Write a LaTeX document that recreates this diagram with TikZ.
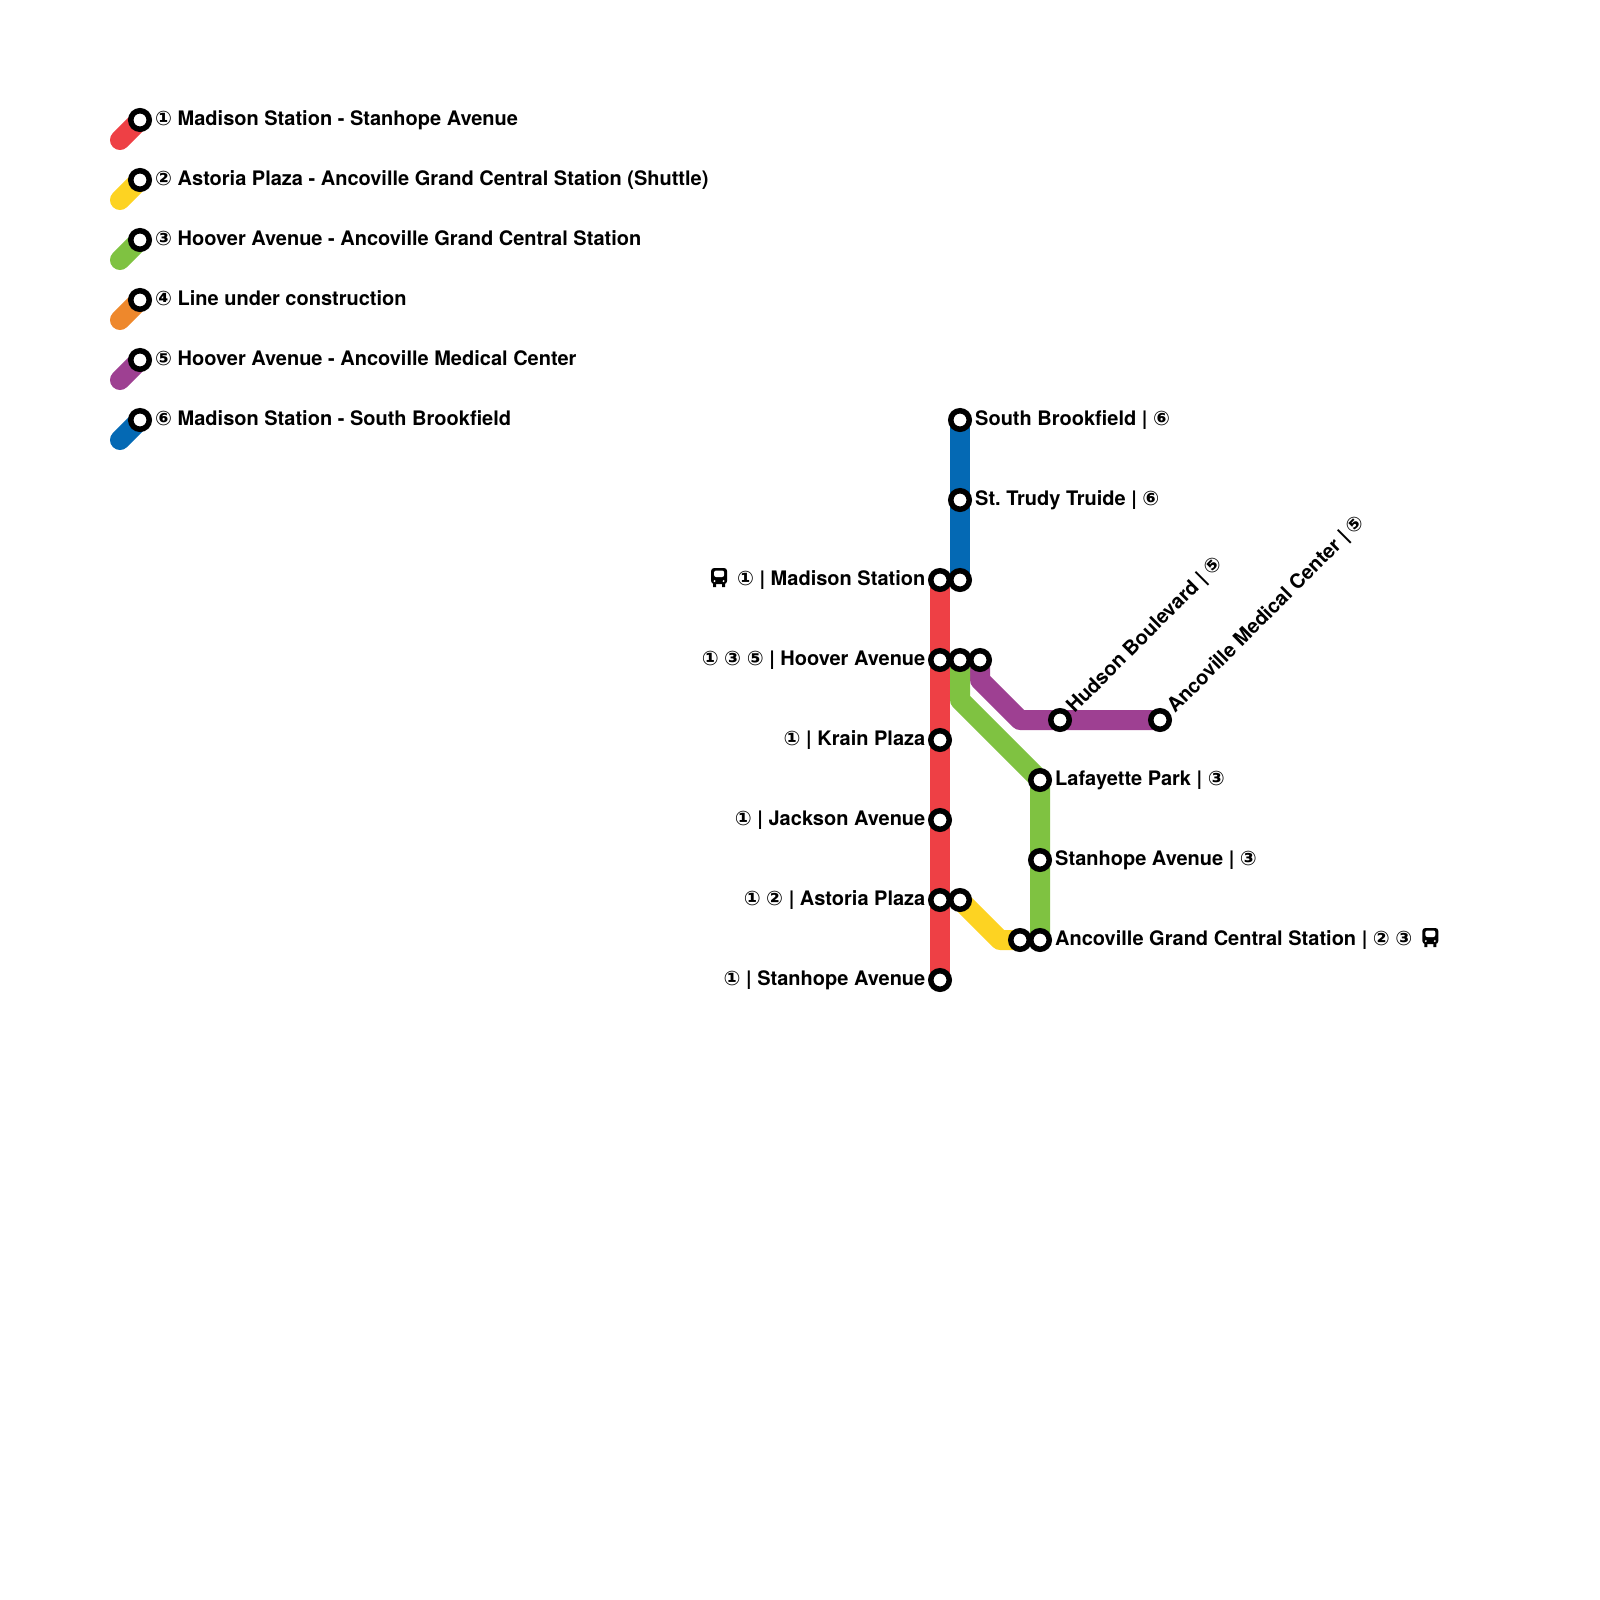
\documentclass[tikz,border=0pt]{standalone}
\usepackage{fontspec}
\setmainfont{TeX Gyre Heros}
\newfontfamily\symfont{DejaVu Sans}
\newcommand{\cn}[1]{{\symfont\bfseries #1}}
\newcommand{\bus}{\tikz[baseline=2pt,x=1pt,y=1pt]{
  \fill[black,rounded corners=3pt] (0,3) rectangle (16,19);
  \fill[black] (2,0) rectangle (5,4) (11,0) rectangle (14,4);
  \fill[white,rounded corners=2pt] (3,10) rectangle (13,16.5);
  \fill[white] (3.5,6) circle (1.1) (12.5,6) circle (1.1);}}
\definecolor{linered}{HTML}{EE4045}
\definecolor{lineyellow}{HTML}{FDD322}
\definecolor{linegreen}{HTML}{7FC241}
\definecolor{lineorange}{HTML}{EE882C}
\definecolor{linepurple}{HTML}{9E4092}
\definecolor{lineblue}{HTML}{0469B4}
\tikzset{
  metro/.style={line width=20pt,line cap=round,line join=round},
  stn/.style={circle,draw=black,fill=white,line width=5.5pt,minimum size=18.5pt,inner sep=0pt,outer sep=0pt},
  txt/.style={font=\fontsize{20pt}{24pt}\bfseries\frenchspacing,inner sep=0pt,text=black},
  lbl/.style={txt,anchor=base west},
  lblr/.style={txt,anchor=base east},
}
\begin{document}
\begin{tikzpicture}[x=1pt,y=-1pt]
  \useasboundingbox (0,0) rectangle (1600,1600);
  % legend line ends
  \coordinate (endA) at (120,140);
  \coordinate (endB) at (120,200);
  \coordinate (endC) at (120,260);
  \coordinate (endD) at (120,320);
  \coordinate (endE) at (120,380);
  \coordinate (endF) at (120,440);
  \coordinate (keyA) at (140,120);
  \coordinate (keyB) at (140,180);
  \coordinate (keyC) at (140,240);
  \coordinate (keyD) at (140,300);
  \coordinate (keyE) at (140,360);
  \coordinate (keyF) at (140,420);
  % stations
  \coordinate (madison) at (940,580);
  \coordinate (hoover) at (940,660);
  \coordinate (krain) at (940,740);
  \coordinate (jackson) at (940,820);
  \coordinate (astoria) at (940,900);
  \coordinate (stanhope) at (940,980);
  \coordinate (brookfield) at (960,420);
  \coordinate (trudy) at (960,500);
  \coordinate (madisonB) at (960,580);
  \coordinate (hooverC) at (960,660);
  \coordinate (hooverE) at (980,660);
  \coordinate (hudson) at (1060,720);
  \coordinate (medical) at (1160,720);
  \coordinate (lafayette) at (1040,780);
  \coordinate (stanhopeC) at (1040,860);
  \coordinate (grandC) at (1040,940);
  \coordinate (grandB) at (1020,940);
  \coordinate (astoriaB) at (960,900);
  % bends
  \coordinate (bendC) at (960,700);
  \coordinate (bendE) at (980,680);
  \coordinate (bendF) at (1020,720);
  \coordinate (bendB) at (1000,940);
  % legend lines
  \draw[metro,linered] (endA) -- (keyA);
  \draw[metro,lineyellow] (endB) -- (keyB);
  \draw[metro,linegreen] (endC) -- (keyC);
  \draw[metro,lineorange] (endD) -- (keyD);
  \draw[metro,linepurple] (endE) -- (keyE);
  \draw[metro,lineblue] (endF) -- (keyF);
  % lines
  \draw[metro,lineblue] (brookfield) -- (trudy) -- (madisonB);
  \draw[metro,linepurple] (hooverE) -- (bendE) -- (bendF) -- (hudson) -- (medical);
  \draw[metro,linegreen] (hooverC) -- (bendC) -- (lafayette) -- (stanhopeC) -- (grandC);
  \draw[metro,lineyellow] (astoriaB) -- (bendB) -- (grandB);
  \draw[metro,linered] (madison) -- (hoover) -- (krain) -- (jackson) -- (astoria) -- (stanhope);
  % station rings
  \foreach \s in {keyA,keyB,keyC,keyD,keyE,keyF,madison,hoover,krain,jackson,astoria,stanhope,
    brookfield,trudy,madisonB,hooverC,hooverE,hudson,medical,lafayette,stanhopeC,grandC,grandB,astoriaB}
    \node[stn] (ring\s) at (\s) {};
  % legend text
  \node[lbl] (txtA) at (155,125) {\cn{①} Madison Station - Stanhope Avenue};
  \node[lbl] (txtB) at (155,185) {\cn{②} Astoria Plaza - Ancoville Grand Central Station (Shuttle)};
  \node[lbl] (txtC) at (155,245) {\cn{③} Hoover Avenue - Ancoville Grand Central Station};
  \node[lbl] (txtD) at (155,305) {\cn{④} Line under construction};
  \node[lbl] (txtE) at (155,365) {\cn{⑤} Hoover Avenue - Ancoville Medical Center};
  \node[lbl] (txtF) at (155,425) {\cn{⑥} Madison Station - South Brookfield};
  % station names
  \node[lblr] (txtMadison) at (925.5,585) {\bus\hspace{10pt}\cn{①} | Madison Station};
  \node[lblr] (txtHoover) at (925.5,665) {\cn{①} \cn{③} \cn{⑤} | Hoover Avenue};
  \node[lblr] (txtKrain) at (925.5,745) {\cn{①} | Krain Plaza};
  \node[lblr] (txtJackson) at (925.5,825) {\cn{①} | Jackson Avenue};
  \node[lblr] (txtAstoria) at (925.5,905) {\cn{①} \cn{②} | Astoria Plaza};
  \node[lblr] (txtStanhope) at (925.5,985) {\cn{①} | Stanhope Avenue};
  \node[lbl] (txtBrookfield) at (975,425) {South Brookfield | \cn{⑥}};
  \node[lbl] (txtTrudy) at (975,505) {St. Trudy Truide | \cn{⑥}};
  \node[lbl] (txtLafayette) at (1055,785) {Lafayette Park | \cn{③}};
  \node[lbl] (txtStanhopeC) at (1055,865) {Stanhope Avenue | \cn{③}};
  \node[lbl] (txtGrand) at (1055,945) {Ancoville Grand Central Station | \cn{②} \cn{③}\hspace{10pt}\bus};
  \node[lbl,rotate=45] (txtHudson) at (1074.5,714) {Hudson Boulevard | \cn{⑤}};
  \node[lbl,rotate=45] (txtMedical) at (1175,714) {Ancoville Medical Center | \cn{⑤}};
\end{tikzpicture}
\end{document}
